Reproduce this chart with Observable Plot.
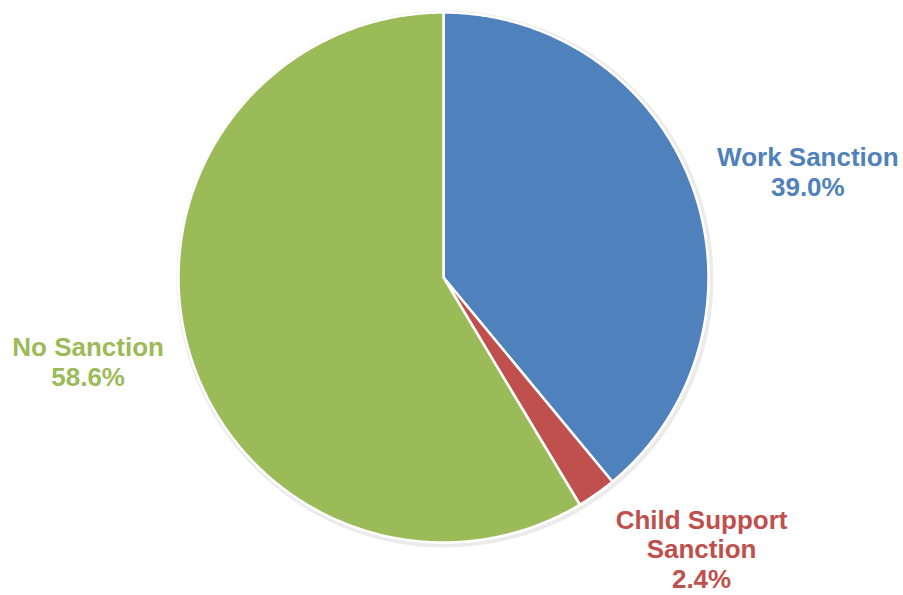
<!DOCTYPE html>
<html>
<head>
<meta charset="utf-8">
<script src="https://cdn.jsdelivr.net/npm/d3@7"></script>
<script src="https://cdn.jsdelivr.net/npm/@observablehq/plot@0.6"></script>
<style>
  html, body { margin: 0; padding: 0; background: #fff; }
  #chart svg { display: block; }
</style>
</head>
<body>
<div id="chart"></div>
<script>
// Data
const categories = ["Work Sanction", "Child Support\nSanction", "No Sanction"];
const shares = [39.0, 2.4, 58.6];
const colors = ["#4F81BD", "#C0504D", "#9BBB59"];

// Layout constants
const W = 903, H = 595;
const CX = 443, CY = 277, R = 265;
// label placement: offset from the slice's mid-angle point on the rim
const labelRadius = 1.0;
const labelOffsets = [[115, -16], [105, 55], [-100, 13]];

const slices = d3.pie().sort(null).value(d => d.value)(
  categories.map((c, i) => ({ label: c, value: shares[i], color: colors[i] }))
);

// polygon vertices for each slice (center + arc)
const pts = [];
slices.forEach((s, i) => {
  const id = i;
  pts.push({ id, x: 0, y: 0, color: s.data.color });
  const n = Math.max(2, Math.ceil((s.endAngle - s.startAngle) / (Math.PI / 360)));
  for (let k = 0; k <= n; k++) {
    const a = s.startAngle + (s.endAngle - s.startAngle) * k / n;
    pts.push({ id, x: R * Math.sin(a), y: -R * Math.cos(a), color: s.data.color });
  }
  pts.push({ id, x: 0, y: 0, color: s.data.color });
});

const labels = slices.map((s, i) => {
  const a = (s.startAngle + s.endAngle) / 2;
  return {
    text: `${s.data.label}\n${s.data.value.toFixed(1)}%`,
    x: R * labelRadius * Math.sin(a) + labelOffsets[i][0],
    y: -R * labelRadius * Math.cos(a) + labelOffsets[i][1],
    color: s.data.color
  };
});

const plot = Plot.plot({
  width: W,
  height: H,
  margin: 0,
  x: { domain: [-CX, W - CX], range: [0, W], axis: null },
  y: { domain: [-CY, H - CY], range: [0, H], axis: null },
  color: { type: "identity" },
  marks: [
    Plot.dot([{ x: 0, y: 0 }], { x: "x", y: "y", r: R + 1.5, fill: "none", stroke: "#000", strokeOpacity: 0.08, strokeWidth: 4, dx: 1.5, dy: 1.5 }),
    Plot.line(pts, { x: "x", y: "y", z: "id", fill: "color", stroke: "white", strokeWidth: 2.5, strokeLinejoin: "round", curve: "linear" }),
    Plot.text(labels, {
      x: "x", y: "y", text: "text", fill: "color",
      fontSize: 26, fontWeight: "bold", fontFamily: "Liberation Sans, Arial, sans-serif",
      lineHeight: 1.15, textAnchor: "middle", lineAnchor: "middle"
    })
  ]
});
document.getElementById("chart").appendChild(plot);
</script>
</body>
</html>
